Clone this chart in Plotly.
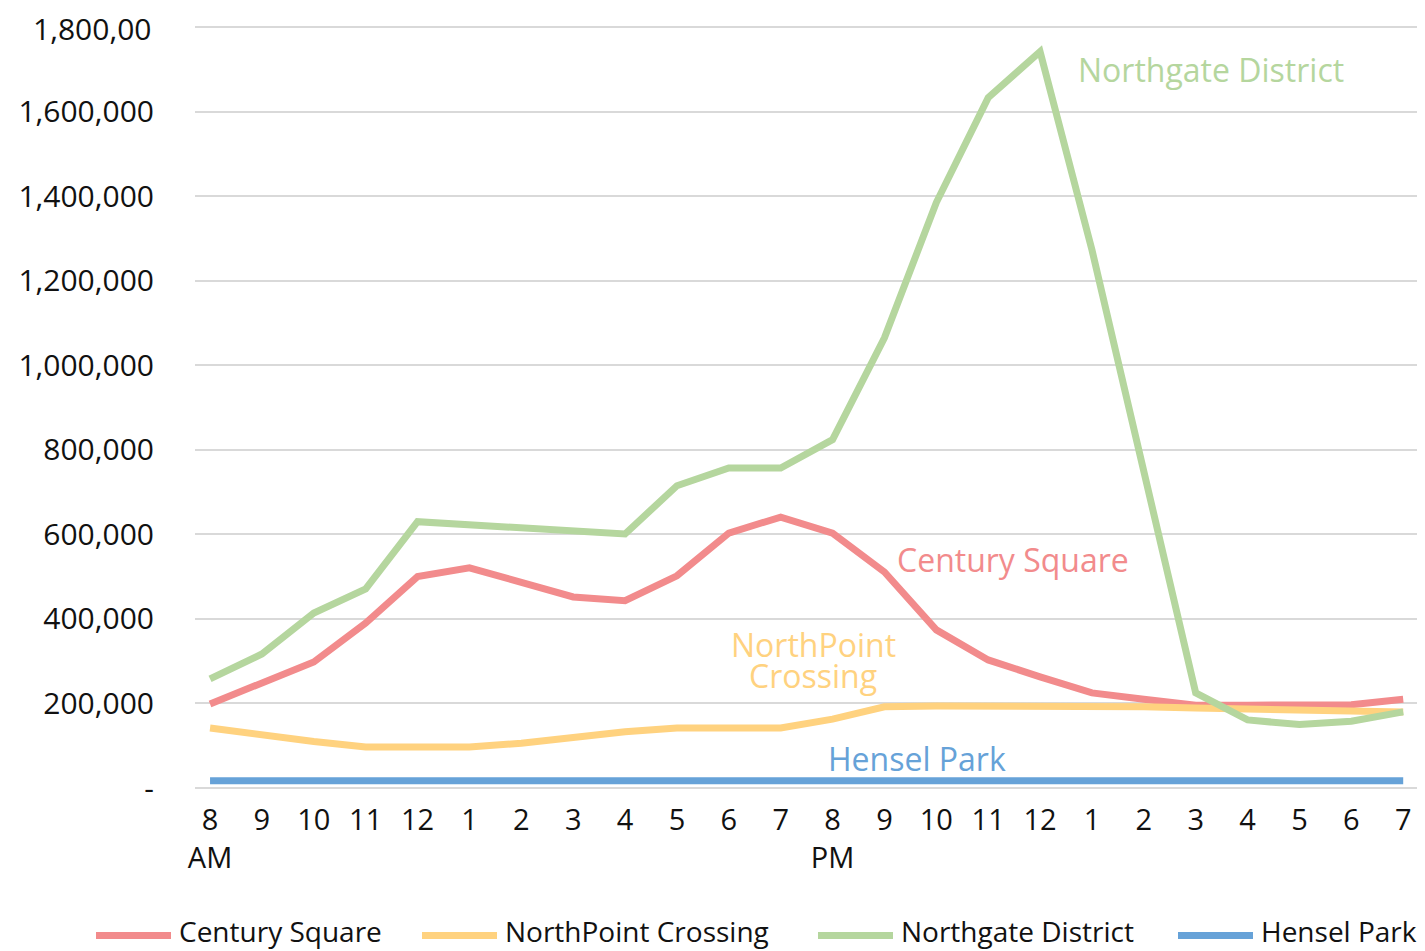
import plotly.graph_objects as go

hours = ["8<br>AM", "9", "10", "11", "12", "1", "2", "3", "4", "5", "6", "7",
         "8<br>PM", "9", "10", "11", "12", "1", "2", "3", "4", "5", "6", "7"]

century_square = [199000, 250000, 298000, 390000, 500000, 521000, 485000, 452000,
                  443000, 502000, 603000, 641000, 603000, 511000, 374000, 303000,
                  263000, 225000, 210000, 196000, 196000, 196000, 197000, 210000]

northpoint_crossing = [142000, 125000, 110000, 97000, 97000, 97000, 106000, 120000,
                       133000, 142000, 142000, 142000, 163000, 192000, 194000, 194000,
                       194000, 194000, 192000, 189000, 186000, 183000, 181000, 180000]

northgate_district = [258000, 317000, 414000, 471000, 630000, 622000, 615000, 607000,
                      601000, 715000, 757000, 757000, 824000, 1065000, 1385000, 1633000,
                      1742000, 1273000, 753000, 225000, 161000, 150000, 158000, 180000]

hensel_park = [17000] * 24

y_ticks = [0, 200000, 400000, 600000, 800000, 1000000, 1200000, 1400000, 1600000]
y_ticktext = ["-", "200,000", "400,000", "600,000", "800,000", "1,000,000",
              "1,200,000", "1,400,000", "1,600,000"]
y_top_tick = 1800000
y_top_ticktext = "1,800,00"

series_names = ["Century Square", "NorthPoint Crossing", "Northgate District", "Hensel Park"]
series_values = [century_square, northpoint_crossing, northgate_district, hensel_park]
series_colors = ["#F28B8C", "#FFD27F", "#B5D69E", "#66A2D8"]

xs = list(range(len(hours)))
FONT = "Open Sans"

# figure geometry (page has an 8px body margin)
W, H = 1417, 943
ML, MR, MT, MB = 187, 0, 17, 163
PW, PH = W - ML - MR, H - MT - MB


def px(x):
    return (x - 8 - ML) / PW


def py(y):
    return (H - MB - (y - 8)) / PH


fig = go.Figure()
for name, vals, color in zip(series_names, series_values, series_colors):
    fig.add_trace(go.Scatter(x=xs, y=vals, mode="lines", name=name,
                             line=dict(color=color, width=7), showlegend=False))

labels = [
    ("Northgate District", 19.3, 1699000, series_colors[2]),
    ("Century Square", 15.48, 540000, series_colors[0]),
    ("NorthPoint", 11.63, 339000, series_colors[1]),
    ("Crossing", 11.63, 266000, series_colors[1]),
    ("Hensel Park", 13.63, 69000, series_colors[3]),
]
for text, x, y, color in labels:
    fig.add_annotation(x=x, y=y, text=text, showarrow=False,
                       font=dict(family=FONT, size=32, color=color),
                       xanchor="center", yanchor="middle")

# top y tick label (drawn as annotation so it is not hidden at the figure edge)
fig.add_annotation(xref="paper", yref="y", x=px(153), y=y_top_tick, yshift=-1,
                   text=y_top_ticktext, showarrow=False, xanchor="right", yanchor="middle",
                   font=dict(family=FONT, size=30, color="#111111"))

# manual legend at the bottom
legend_starts = [96, 422, 818, 1178]
for name, color, x0 in zip(series_names, series_colors, legend_starts):
    fig.add_shape(type="line", xref="paper", yref="paper",
                  x0=px(x0), x1=px(x0 + 75), y0=py(935.5), y1=py(935.5),
                  line=dict(color=color, width=7))
    fig.add_annotation(xref="paper", yref="paper", x=px(x0 + 81), y=py(931),
                       text=name, showarrow=False, xanchor="left", yanchor="middle",
                       font=dict(family=FONT, size=28, color="#111111"))

fig.update_layout(
    width=W, height=H,
    margin=dict(l=ML, r=MR, t=MT, b=MB),
    plot_bgcolor="white", paper_bgcolor="white",
    font=dict(family=FONT, size=29, color="#111111"),
    showlegend=False,
    xaxis=dict(tickmode="array", tickvals=xs, ticktext=hours, range=[-0.29, 23.42],
               showgrid=False, zeroline=False, showline=False, ticks="",
               ticklabelstandoff=12, automargin=False,
               tickfont=dict(family=FONT, size=29, color="#111111")),
    yaxis=dict(tickmode="array", tickvals=y_ticks + [y_top_tick],
               ticktext=y_ticktext + [""],
               range=[0, 1805000], showgrid=True, gridcolor="#D9D9D9", gridwidth=2,
               zeroline=True, zerolinecolor="#D9D9D9", zerolinewidth=2,
               ticks="", ticklabelstandoff=40, automargin=False,
               tickfont=dict(family=FONT, size=30, color="#111111")),
)

fig.write_html("out.html")
